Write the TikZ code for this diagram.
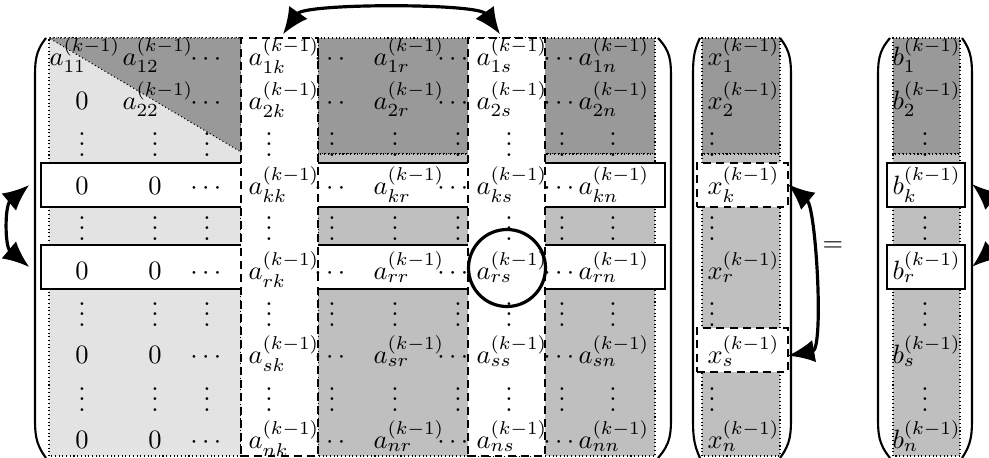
\documentclass[tikz,border=0pt]{standalone}
\usepackage{amsmath}
\usepackage{xcolor}
\usetikzlibrary{arrows.meta}
\usetikzlibrary{fit, math}
\definecolor{mydark}{gray}{0.6}
\definecolor{mymid}{gray}{0.75}
\definecolor{mylight}{gray}{0.89}

% big round bracket from (#1,top) bulging out to x=#2
\newcommand{\bigparen}[2]{%
\draw[paren] (#1,419) .. controls (#2,405) and (#2,396) .. (#2,376) -- (#2,43) .. controls (#2,23) and (#2,14) .. (#1,-1);}

\begin{document}
\begin{tikzpicture}[x=0.3774pt, y=0.3774pt,
  entry/.style={anchor=base west, inner sep=0pt},
  centry/.style={anchor=base, inner sep=0pt},
  zone/.style={densely dotted},
  rowbox/.style={draw, semithick, fill=white, inner sep=0pt},
  colbox/.style={draw, semithick, fill=white, inner sep=0pt, dash pattern=on 3pt off 2pt},
  paren/.style={thick},
  swaparrow/.style={{Latex[length=10pt,width=8.5pt]}-{Latex[length=10pt,width=8.5pt]}, very thick}]
\tikzmath{
\ytop=419; \ymid=303; \ybot=1;% edges of the shaded zones
}
\useasboundingbox (0,0) rectangle (989,457);

% shaded zones of A, x and b
\draw[zone, fill=mylight] (49,\ybot) rectangle (241,\ytop);
\draw[zone, fill=mydark] (49,\ytop) -- (241,\ytop) -- (241,305) -- cycle;
\draw[zone, fill=mydark] (318,\ymid) rectangle (655,\ytop);
\draw[zone, fill=mymid] (318,\ybot) rectangle (655,\ymid);
\draw[zone, fill=mydark] (702,\ymid) rectangle (780,\ytop);
\draw[zone, fill=mymid] (702,\ybot) rectangle (780,\ymid);
\draw[zone, fill=mydark] (893,\ymid) rectangle (960,\ytop);
\draw[zone, fill=mymid] (893,\ybot) rectangle (960,\ymid);

% rows and columns to swap
\node[rowbox, fit={(41,250) (665,294)}] (rowk) {};
\node[rowbox, fit={(41,168) (665,212)}] (rowr) {};
\node[colbox, fit={(241,\ybot) (318,\ytop)}] (colk) {};
\node[colbox, fit={(468,\ybot) (545,\ytop)}] (cols) {};
\node[colbox, fit={(697,250) (788,294)}] (xk) {};
\node[colbox, fit={(697,85) (788,129)}] (xs) {};
\node[rowbox, fit={(887,250) (965,294)}] (bk) {};
\node[rowbox, fit={(887,168) (965,212)}] (br) {};

% pivot
\draw[very thick] (507,189) circle (38.5);

\bigparen{46}{35}
\bigparen{658}{671}
\bigparen{700}{693}
\bigparen{780}{791}
\bigparen{890}{878}
\bigparen{962}{972}

% entries
\node[entry] (a11) at (49,392) {$a_{11}^{(k-1)}$};
\node[entry] (a12) at (122,392) {$a_{12}^{(k-1)}$};
\node[centry] (z21) at (82,348) {$0$};
\node[entry] (a22) at (122,348) {$a_{22}^{(k-1)}$};
\foreach \i/\yy in {k/263, r/178, s/94, n/9}{
  \node[centry] (z\i1) at (82,\yy) {$0$};
  \node[centry] (z\i2) at (155,\yy) {$0$};
}
\foreach \i/\yy in {1/392, 2/348, k/263, r/178, s/94, n/9}{
  \node[centry] (c\i3) at (208,\yy) {$\cdots$};
  \node[entry] (a\i-k) at (248,\yy) {$a_{\i k}^{(k-1)}$};
  \node[centry] (c\i5) at (332,\yy) {$\cdots$};
  \node[entry] (a\i-r) at (373,\yy) {$a_{\i r}^{(k-1)}$};
  \node[centry] (c\i7) at (455,\yy) {$\cdots$};
  \node[entry] (a\i-s) at (476,\yy) {$a_{\i s}^{(k-1)}$};
  \node[centry] (c\i9) at (561,\yy) {$\cdots$};
  \node[entry] (a\i-n) at (578,\yy) {$a_{\i n}^{(k-1)}$};
  \node[entry] (x\i) at (707,\yy) {$x_{\i}^{(k-1)}$};
  \node[entry] (b\i) at (892,\yy) {$b_{\i}^{(k-1)}$};
}
\foreach \j/\yy in {3/300.5, 5/216.5, 7/130.5, 9/45.5}{
  \foreach \c/\xx in {1/82, 2/155, 3/207, 4/269, 5/332, 6/395, 7/458, 8/509, 9/562, 10/613, x/712, b/925}
    \node[centry] (v\j-\c) at (\xx,\yy) {$\vdots$};
}
\node (eq) at (833,210) {$=$};

% swaps
\draw[swaparrow] ([shift={(3.5,3)}]colk.north) to[out=55,in=125,looseness=0.45] ([shift={(-6.5,3)}]cols.north);
\draw[swaparrow] ([shift={(-11,0)}]rowk.west) to[out=220,in=140] ([shift={(-11,0)}]rowr.west);
\draw[swaparrow] ([shift={(8,0)}]xk.east) to[out=-40,in=10,looseness=0.55] ([shift={(8,-5)}]xs.east);
\draw[swaparrow] ([shift={(11,0)}]bk.east) to[out=-40,in=40] ([shift={(11,0)}]br.east);
\end{tikzpicture}
\end{document}
